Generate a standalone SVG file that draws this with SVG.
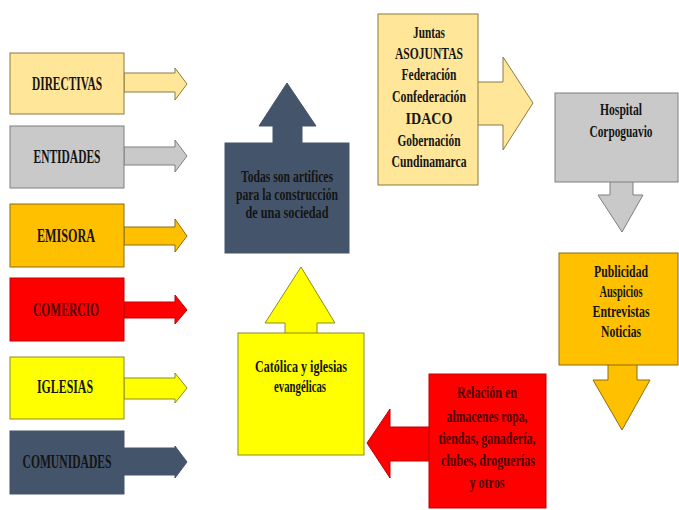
<svg xmlns="http://www.w3.org/2000/svg" width="679" height="510" viewBox="0 0 679 510">
<style>
text{font-family:"Liberation Serif","Times New Roman",serif;font-weight:bold;text-anchor:middle;fill:#141414}
.big{font-size:19px}
.mid{font-size:17px}
.sm{font-size:16px}
.lyel{fill:#FFE699;stroke:#8C7A40;stroke-width:1}
.grey{fill:#C9C9C9;stroke:#7F7F7F;stroke-width:1}
.gold{fill:#FFC000;stroke:#8C6D10;stroke-width:1}
.red{fill:#FF0000;stroke:#C00000;stroke-width:1}
.yel{fill:#FFFF00;stroke:#8C8C20;stroke-width:1}
.navy{fill:#44546A;stroke:#44546A;stroke-width:1}
.rt{fill:#4A0505}
</style>
<rect width="679" height="510" fill="#fff"/>
<g id="connectors">
<polygon class="lyel" points="124,73 175,73 175,68 187,84 175,100 175,92 124,92"/>
<polygon class="grey" points="124,147 175,147 175,140 187,156 175,172 175,165 124,165"/>
<polygon class="gold" points="124,227 175,227 175,219 187,236 175,252 175,245 124,245"/>
<polygon class="red" points="124,302 175,302 175,295 187,310 175,324 175,318 124,318"/>
<polygon class="yel" points="124,378 175,378 175,373 187,388 175,403 175,399 124,399"/>
<polygon class="navy" points="124,448 175,448 175,446 187,462 175,478 175,475 124,475"/>
<polygon class="navy" points="273,144 273,126 259,126 287,83 316,126 302,126 302,144"/>
<polygon class="yel" points="285,334 285,323 265,323 301,267 335,323 317,323 317,334"/>
<polygon class="red" points="430,427 390,427 390,409 367,443 390,478 390,461 430,461"/>
<polygon class="lyel" points="477,82 503,82 503,57 533,103 503,150 503,125 477,125"/>
<polygon class="grey" points="610,181 610,195 598,195 622,232 643,195 633,195 633,181"/>
<polygon class="gold" points="608,364 608,380 593,380 622,430 650,380 637,380 637,364"/>
</g>
<g id="directivas"><rect class="lyel" x="10" y="53" width="114" height="61"/><text class="big" x="67" y="90" textLength="70" lengthAdjust="spacingAndGlyphs">DIRECTIVAS</text></g>
<g id="entidades"><rect class="grey" x="10" y="126" width="114" height="62"/><text class="big" x="67" y="163" textLength="67" lengthAdjust="spacingAndGlyphs">ENTIDADES</text></g>
<g id="emisora"><rect class="gold" x="10" y="204" width="114" height="63"/><text class="big" x="66" y="242" textLength="58" lengthAdjust="spacingAndGlyphs">EMISORA</text></g>
<g id="comercio"><rect class="red" x="10" y="278" width="114" height="63"/><text class="big rt" x="66" y="316" textLength="66" lengthAdjust="spacingAndGlyphs">COMERCIO</text></g>
<g id="iglesias"><rect class="yel" x="10" y="357" width="114" height="62"/><text class="big" x="65" y="393" textLength="56" lengthAdjust="spacingAndGlyphs">IGLESIAS</text></g>
<g id="comunidades"><rect class="navy" x="10" y="431" width="114" height="63"/><text class="big" x="67" y="468" textLength="89" lengthAdjust="spacingAndGlyphs">COMUNIDADES</text></g>
<g id="todas"><rect class="navy" x="225" y="143" width="124" height="110"/>
<text class="sm" x="287" y="182" textLength="92" lengthAdjust="spacingAndGlyphs">Todas son artifices</text>
<text class="sm" x="287" y="200" textLength="102" lengthAdjust="spacingAndGlyphs">para la construcción</text>
<text class="sm" x="287" y="218" textLength="83" lengthAdjust="spacingAndGlyphs">de una sociedad</text></g>
<g id="catolica"><rect class="yel" x="238" y="333" width="126" height="122"/>
<text class="sm" x="301" y="372" textLength="92" lengthAdjust="spacingAndGlyphs">Católica y iglesias</text>
<text class="sm" x="300" y="392" textLength="52" lengthAdjust="spacingAndGlyphs">evangélicas</text></g>
<g id="relacion"><rect class="red" x="429" y="374" width="117" height="134"/>
<text class="sm rt" x="487" y="398" textLength="60" lengthAdjust="spacingAndGlyphs">Relación en</text>
<text class="sm rt" x="487" y="422" textLength="81" lengthAdjust="spacingAndGlyphs">almacenes ropa,</text>
<text class="sm rt" x="487" y="444" textLength="97" lengthAdjust="spacingAndGlyphs">tiendas, ganadería,</text>
<text class="sm rt" x="488" y="466" textLength="94" lengthAdjust="spacingAndGlyphs">clubes, droguerías</text>
<text class="sm rt" x="487" y="488" textLength="35" lengthAdjust="spacingAndGlyphs">y otros</text></g>
<g id="juntas"><rect class="lyel" x="378" y="14" width="100" height="171"/>
<text class="mid" x="429" y="38" textLength="32" lengthAdjust="spacingAndGlyphs">Juntas</text>
<text class="mid" x="429" y="59" textLength="68" lengthAdjust="spacingAndGlyphs">ASOJUNTAS</text>
<text class="mid" x="429" y="80" textLength="55" lengthAdjust="spacingAndGlyphs">Federación</text>
<text class="mid" x="429" y="102" textLength="74" lengthAdjust="spacingAndGlyphs">Confederación</text>
<text class="mid" x="429" y="124" textLength="47" lengthAdjust="spacingAndGlyphs">IDACO</text>
<text class="mid" x="429" y="146" textLength="63" lengthAdjust="spacingAndGlyphs">Gobernación</text>
<text class="mid" x="429" y="167" textLength="75" lengthAdjust="spacingAndGlyphs">Cundinamarca</text></g>
<g id="hospital"><rect class="grey" x="555" y="93" width="123" height="89"/>
<text class="sm" x="621" y="115" textLength="42" lengthAdjust="spacingAndGlyphs">Hospital</text>
<text class="sm" x="621" y="137" textLength="63" lengthAdjust="spacingAndGlyphs">Corpoguavio</text></g>
<g id="publicidad"><rect class="gold" x="559" y="253" width="119" height="112"/>
<text class="mid" x="621" y="277" textLength="54" lengthAdjust="spacingAndGlyphs">Publicidad</text>
<text class="mid" x="621" y="297" textLength="43" lengthAdjust="spacingAndGlyphs">Auspicios</text>
<text class="mid" x="621" y="317" textLength="57" lengthAdjust="spacingAndGlyphs">Entrevistas</text>
<text class="mid" x="621" y="337" textLength="40" lengthAdjust="spacingAndGlyphs">Noticias</text></g>
</svg>
